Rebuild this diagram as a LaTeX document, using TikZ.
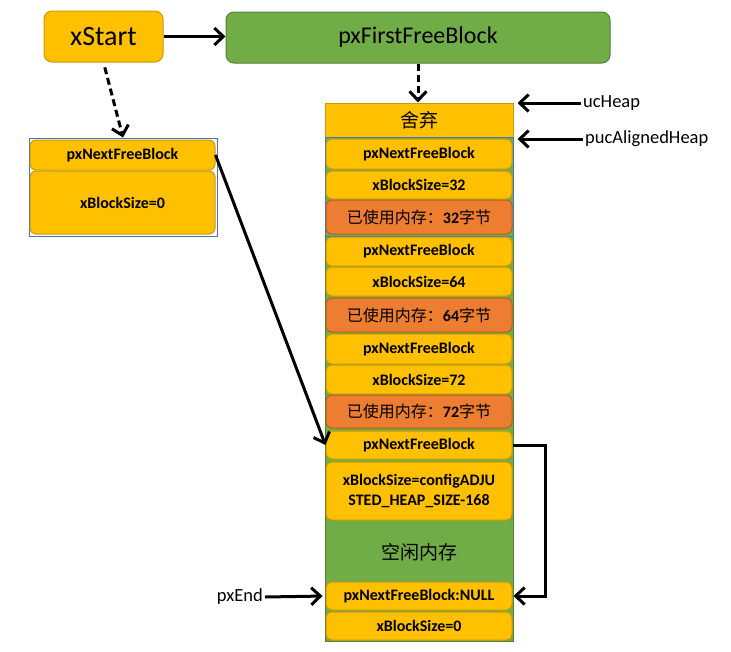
\documentclass[tikz,border=0pt]{standalone}
\usepackage{fontspec}
\setmainfont{Carlito}
\newfontfamily\cjk{Noto Sans CJK SC}
\usetikzlibrary{arrows.meta}
\definecolor{cyel}{HTML}{FFC000}
\definecolor{cgold}{HTML}{C99A06}
\definecolor{corg}{HTML}{ED7D31}
\definecolor{corgb}{HTML}{B85E22}
\definecolor{cgreen}{HTML}{70AD47}
\definecolor{cgreenb}{HTML}{548235}
\definecolor{cblue}{HTML}{4472C4}
\begin{document}
\begin{tikzpicture}[x=1pt,y=-1pt,
  cell/.style={draw=cgold, fill=cyel, rounded corners=6pt, line width=1pt,
    minimum width=186pt, inner sep=0pt, text=black,
    font=\fontsize{16}{20}\selectfont\bfseries},
  used/.style={cell, draw=corgb, fill=corg},
  grp/.style={draw=cblue, line width=1pt, minimum width=188pt, inner sep=0pt},
  lab/.style={inner sep=2pt, font=\fontsize{18.5}{22}\selectfont},
  arr/.style={line width=3pt, -{Straight Barb[length=9pt,width=17pt]}},
  dsh/.style={arr, dash pattern=on 7pt off 4pt}
]
\fill[white] (0,0) rectangle (731,651);
\useasboundingbox (0,0) rectangle (731,651);

% top boxes
\node[draw=cgold, fill=cyel, line width=1pt, rounded corners=8pt, minimum width=119pt,
  minimum height=51pt, inner sep=0pt, font=\fontsize{28}{32}\selectfont] (xStart) at (103.5,36.5) {xStart};
\node[draw=cgreenb, fill=cgreen, line width=1pt, rounded corners=8pt, minimum width=384pt,
  minimum height=51pt, inner sep=0pt, font=\fontsize{24}{28}\selectfont] (first) at (418,37.5) {pxFirstFreeBlock};

% left block
\node[grp, minimum height=98pt] (lgrp) at (123,187) {};
\node[cell, minimum width=185pt, minimum height=30pt] (lnfb) at (122.5,155) {pxNextFreeBlock};
\node[cell, minimum width=185pt, minimum height=63pt] (lsize) at (122.5,202.5) {xBlockSize=0};

% heap column
\node[draw=cgreenb, fill=cgreen, line width=1pt, minimum width=188pt, minimum height=538pt, inner sep=0pt] (col) at (419,372) {};
\node[draw=cgold, fill=cyel, line width=1pt, minimum width=188pt, minimum height=34pt, inner sep=0pt,
  font=\cjk\fontsize{19}{22}\selectfont] (discard) at (419,120) {舍弃};
\node[grp, minimum height=99pt] (grp1) at (419,186.5) {};

\node[cell, minimum height=30pt] (r1) at (419,154) {pxNextFreeBlock};
\node[cell, minimum height=28pt] (r2) at (419,185) {xBlockSize=32};
\node[used, minimum height=34pt] (r3) at (419,217) {{\cjk\mdseries 已使用内存：}32{\cjk\mdseries 字节}};
\node[cell, minimum height=29pt] (r4) at (419,251.5) {pxNextFreeBlock};
\node[cell, minimum height=29pt] (r5) at (419,281.5) {xBlockSize=64};
\node[used, minimum height=34pt] (r6) at (419,315) {{\cjk\mdseries 已使用内存：}64{\cjk\mdseries 字节}};
\node[cell, minimum height=30pt] (r7) at (419,349) {pxNextFreeBlock};
\node[cell, minimum height=29pt] (r8) at (419,379.5) {xBlockSize=72};
\node[used, minimum height=33pt] (r9) at (419,411.5) {{\cjk\mdseries 已使用内存：}72{\cjk\mdseries 字节}};
\node[cell, minimum height=28pt] (r10) at (419,445) {pxNextFreeBlock};
\node[cell, minimum height=58pt, align=center] (r11) at (419,491) {xBlockSize=configADJU\\STED\_HEAP\_SIZE-168};
\node[font=\cjk\fontsize{19}{22}\selectfont] (free) at (419,552) {空闲内存};
\node[cell, minimum height=28pt] (r12) at (419,596) {pxNextFreeBlock:NULL};
\node[cell, minimum height=28pt] (r13) at (419,626) {xBlockSize=0};

% labels
\node[lab, anchor=west] (ucheap) at (581,103) {ucHeap};
\node[lab, anchor=west] (pucah) at (583,139) {pucAlignedHeap};
\node[lab, anchor=east] (pxend) at (265,597) {pxEnd};

% connectors
\draw[arr] (xStart.east) -- (xStart.east -| first.west);
\draw[dsh, shorten <=5pt] (xStart.south) -- (lgrp.north);
\draw[dsh] (first.south) -- (first.south |- col.north);
\draw[arr, shorten >=4pt] (ucheap.west) -- (ucheap.west -| col.east);
\draw[arr, shorten >=4pt] (pucah.west) -- (pucah.west -| col.east);
\draw[arr] (lnfb.east) -- (r10.west);
\draw[arr, shorten >=1pt] (r10.east) -- ++(33,0) |- (r12.east);
\draw[arr, shorten >=3pt] (pxend.east) -- (r12.west);
\end{tikzpicture}
\end{document}
